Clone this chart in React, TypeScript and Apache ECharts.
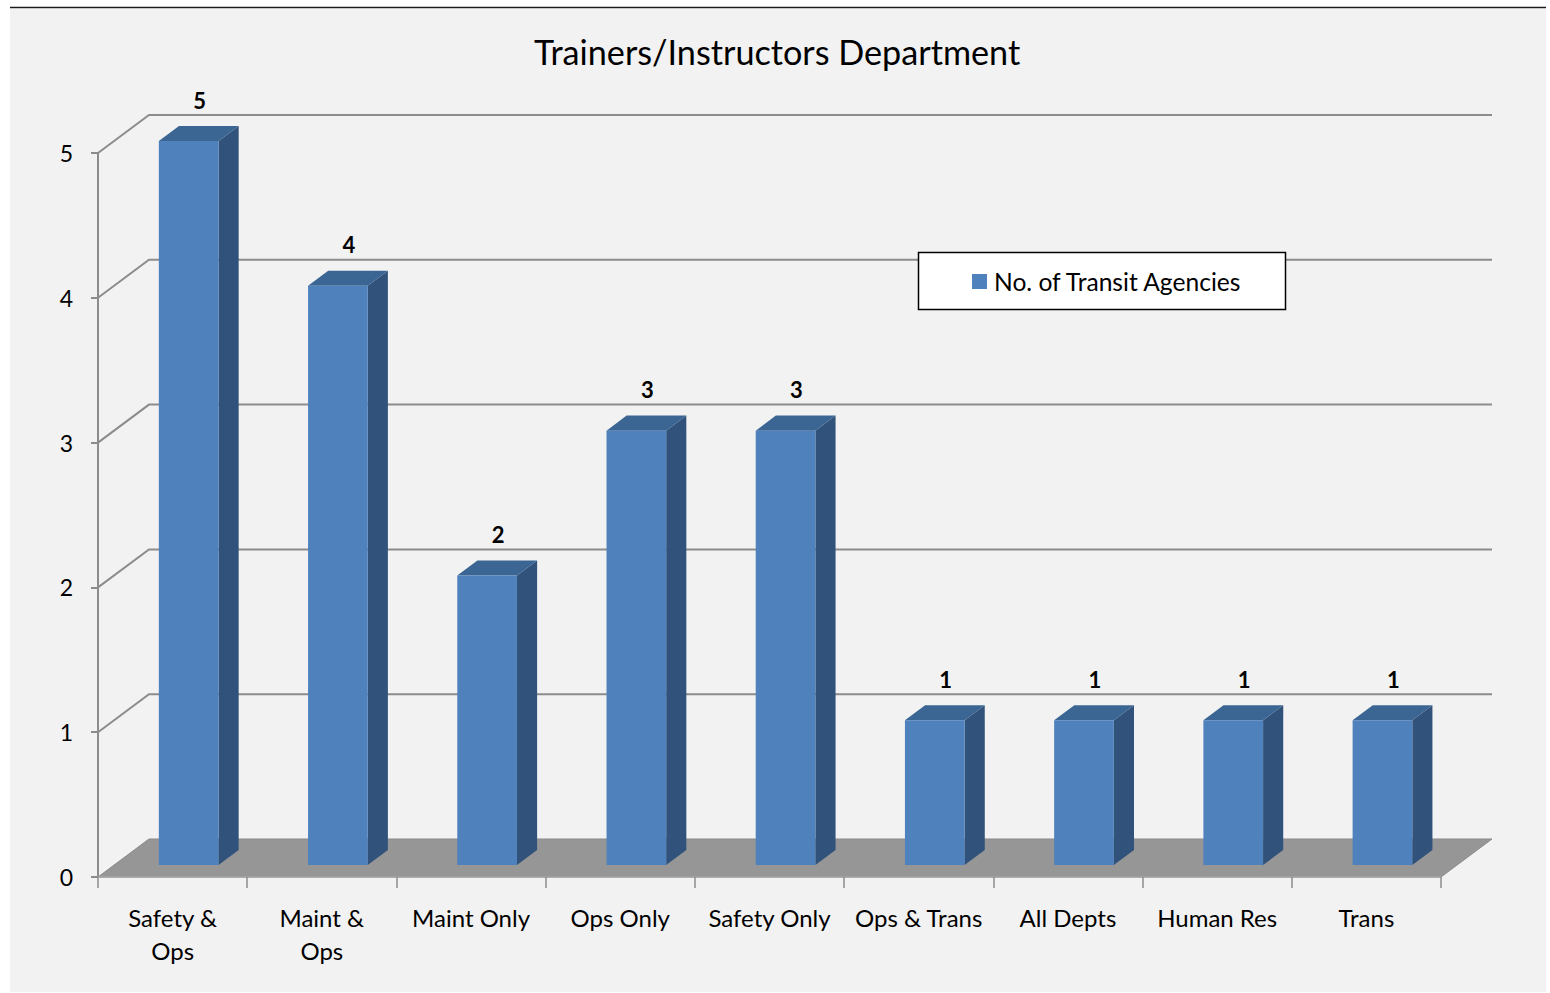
import React, { useEffect, useRef } from "react";
import * as echarts from "echarts";

const categories = [
  "Safety &\nOps",
  "Maint &\nOps",
  "Maint Only",
  "Ops Only",
  "Safety Only",
  "Ops & Trans",
  "All Depts",
  "Human Res",
  "Trans",
];
const agencies = [5, 4, 2, 3, 3, 1, 1, 1, 1];
const yTicks = [0, 1, 2, 3, 4, 5];
const seriesName = "No. of Transit Agencies";
const titleText = "Trainers/Instructors Department";

const FONT = "Lato, 'Open Sans', sans-serif";
const DX = 51;
const DY = 38;
const F1 = 0.315;
const F2 = 0.71;

export default function App() {
  const ref = useRef<HTMLDivElement>(null);
  useEffect(() => {
    if (!ref.current) return;
    const chart = echarts.init(ref.current, null, { renderer: "svg" });
    const option: any = {
      animation: false,
      backgroundColor: "#ffffff",
      title: {
        text: titleText,
        left: 529,
        top: 29,
        textStyle: { fontFamily: FONT, fontSize: 34.2, fontWeight: "normal", color: "#000" },
      },
      graphic: [
        {
          type: "rect",
          z: -10,
          shape: { x: 10, y: 9, width: 1536, height: 983 },
          style: { fill: "#f2f2f2" },
        },
        {
          type: "line",
          z: -9,
          shape: { x1: 10, y1: 7.5, x2: 1546, y2: 7.5 },
          style: { stroke: "#1a1a1a", lineWidth: 1.5 },
        },
        {
          type: "rect",
          z: 3,
          shape: { x: 918.5, y: 252.5, width: 367, height: 57 },
          style: { fill: "#ffffff", stroke: "#000", lineWidth: 1.5 },
        },
      ],
      legend: {
        data: [{ name: seriesName, itemStyle: { color: "#4f81bd" } }],
        left: 972,
        top: 269,
        padding: 0,
        z: 10,
        icon: "rect",
        itemWidth: 15,
        itemHeight: 15,
        selectedMode: false,
        textStyle: {
          fontFamily: FONT,
          fontSize: 24.6,
          lineHeight: 25,
          color: "#000",
          padding: [0, 0, 0, 2],
        },
      },
      grid: { left: 98, right: 109, top: 153, bottom: 116, containLabel: false },
      xAxis: {
        type: "category",
        data: categories,
        z: 10,
        axisLine: { lineStyle: { color: "#a6a6a6", width: 1.5 } },
        axisTick: { show: true, length: 11, lineStyle: { color: "#8c8c8c", width: 1.5 } },
        axisLabel: {
          interval: 0,
          margin: 24,
          fontFamily: FONT,
          fontSize: 24,
          color: "#000",
          lineHeight: 33,
        },
        splitLine: { show: false },
      },
      yAxis: {
        type: "value",
        min: 0,
        max: 5,
        interval: 1,
        z: 10,
        axisLine: { show: true, lineStyle: { color: "#8c8c8c", width: 2 } },
        axisTick: { show: true, length: 7, lineStyle: { color: "#8c8c8c", width: 2 } },
        axisLabel: { margin: 25, fontFamily: FONT, fontSize: 23, color: "#000" },
        splitLine: { show: false },
      },
      series: [
        {
          type: "custom",
          name: "walls",
          z: 1,
          clip: false,
          silent: true,
          data: yTicks.map((t) => [0, t]),
          encode: { x: 0, y: 1 },
          renderItem: (params: any, api: any) => {
            const t = api.value(1);
            const bw = api.size([1, 0])[0];
            const p0 = api.coord([0, t]);
            const p1 = api.coord([categories.length - 1, t]);
            const L = p0[0] - bw / 2;
            const R = p1[0] + bw / 2;
            const y = p0[1];
            if (t === 0) {
              return {
                type: "polygon",
                shape: {
                  points: [
                    [L, y],
                    [R, y],
                    [R + DX, y - DY],
                    [L + DX, y - DY],
                  ],
                },
                style: { fill: "#969696", stroke: "#8a8a8a", lineWidth: 1 },
              };
            }
            return {
              type: "polyline",
              shape: {
                points: [
                  [L, y],
                  [L + DX, y - DY],
                  [R + DX, y - DY],
                ],
              },
              style: { stroke: "#8c8c8c", lineWidth: 2, fill: null },
            };
          },
        },
        {
          type: "custom",
          name: seriesName,
          z: 5,
          clip: false,
          itemStyle: { color: "#4f81bd" },
          data: agencies.map((v, i) => [i, v]),
          encode: { x: 0, y: 1 },
          renderItem: (params: any, api: any) => {
            const i = api.value(0);
            const v = api.value(1);
            const top = api.coord([i, v]);
            const base = api.coord([i, 0]);
            const bw = api.size([1, 0])[0];
            const w = bw * 0.4;
            const xl = top[0] + DX * F1 - w / 2;
            const xr = xl + w;
            const yt = top[1] - DY * F1;
            const yb = base[1] - DY * F1;
            const ddx = DX * (F2 - F1);
            const ddy = DY * (F2 - F1);
            return {
              type: "group",
              children: [
                {
                  type: "polygon",
                  shape: { points: [[xr, yt], [xr + ddx, yt - ddy], [xr + ddx, yb - ddy], [xr, yb]] },
                  style: { fill: "#31537b" },
                },
                {
                  type: "polygon",
                  shape: { points: [[xl, yt], [xl + ddx, yt - ddy], [xr + ddx, yt - ddy], [xr, yt]] },
                  style: { fill: "#3b6592" },
                },
                {
                  type: "rect",
                  shape: { x: xl, y: yt, width: w, height: yb - yt },
                  style: { fill: "#4f81bd" },
                },
                {
                  type: "text",
                  style: {
                    text: String(v),
                    x: top[0] + 27,
                    y: top[1] - 53,
                    align: "center",
                    verticalAlign: "middle",
                    font: `bold 22px ${FONT}`,
                    fill: "#000",
                  },
                },
              ],
            };
          },
        },
      ],
    };
    chart.setOption(option);
    return () => chart.dispose();
  }, []);
  return (
    <div
      ref={ref}
      style={{ position: "fixed", left: 0, top: 0, width: 1550, height: 993 }}
    />
  );
}
